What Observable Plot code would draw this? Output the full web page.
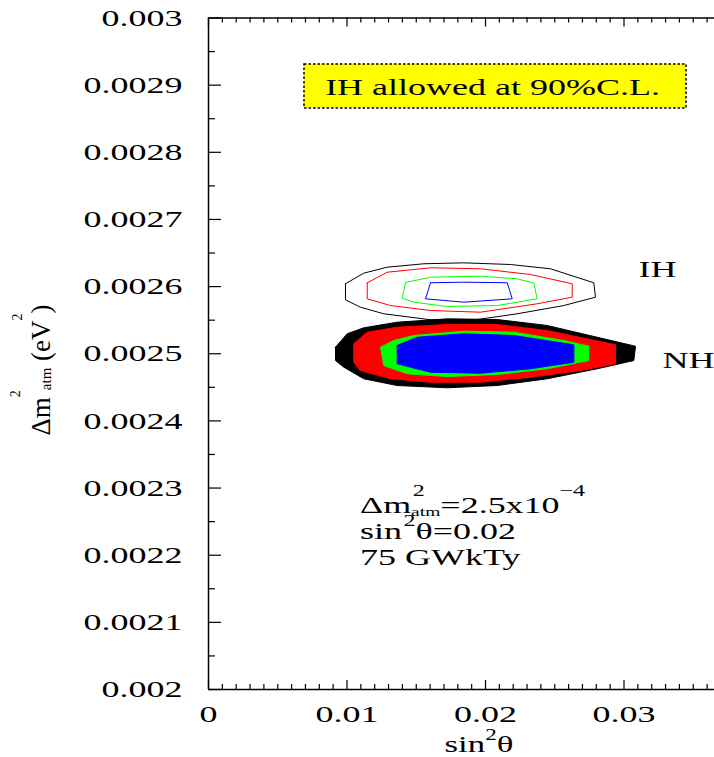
<!DOCTYPE html>
<html><head><meta charset="utf-8">
<script src="https://cdn.jsdelivr.net/npm/d3@7"></script>
<script src="https://cdn.jsdelivr.net/npm/@observablehq/plot@0.6"></script>
<style>body{margin:0;background:#fff;} svg{display:block;}</style>
</head><body><div id="chart"></div>
<script>
// ---- tick values ----
const xMajor = [0, 0.01, 0.02, 0.03];
const xMinor = d3.range(0, 37).map(i => i / 1000).filter(v => !xMajor.some(m => Math.abs(m - v) < 1e-9));
const yMajor = [0.002, 0.0021, 0.0022, 0.0023, 0.0024, 0.0025, 0.0026, 0.0027, 0.0028, 0.0029, 0.003];
const yMinor = [0.00205, 0.00215, 0.00225, 0.00235, 0.00245, 0.00255, 0.00265, 0.00275, 0.00285, 0.00295];

// ---- NH filled contours (sin^2θ, Δm²) ----
const nhBlackX = [0.00917,0.01001,0.01121,0.01362,0.01723,0.02084,0.02445,0.02806,0.03083,0.03071,0.02806,0.02445,0.02084,0.01723,0.01362,0.01121,0.00977,0.00917];
const nhBlackY = [0.0025098,0.0025297,0.0025386,0.0025470,0.0025520,0.0025510,0.0025421,0.0025246,0.0025112,0.0024899,0.0024776,0.0024627,0.0024527,0.0024493,0.0024527,0.0024627,0.0024800,0.0024899];
const nhRedX = [0.01049,0.01146,0.01362,0.01723,0.02084,0.02445,0.02939,0.02939,0.02686,0.02325,0.01964,0.01603,0.01314,0.01097,0.01049];
const nhRedY = [0.0025148,0.0025321,0.0025395,0.0025436,0.0025436,0.0025346,0.0025133,0.0024850,0.0024751,0.0024651,0.0024576,0.0024576,0.0024627,0.0024751,0.0024874];
const nhGreenX = [0.01242,0.01338,0.01482,0.01843,0.02204,0.02565,0.02746,0.02746,0.02445,0.02084,0.01723,0.01435,0.01266];
const nhGreenY = [0.0025098,0.0025197,0.0025272,0.0025336,0.0025321,0.0025197,0.0025112,0.0024899,0.0024776,0.0024691,0.0024661,0.0024701,0.0024825];
const nhBlueX = [0.01362,0.01507,0.01843,0.02204,0.02638,0.02638,0.02325,0.01964,0.01603,0.01362];
const nhBlueY = [0.0025123,0.0025246,0.0025297,0.0025272,0.0025133,0.0024874,0.0024776,0.0024710,0.0024725,0.0024850];

// ---- IH outline contours ----
const ihBlackX = [0.00989,0.01121,0.01290,0.01555,0.01843,0.02180,0.02469,0.02782,0.02794,0.02565,0.02229,0.01892,0.01603,0.01266,0.01097,0.00989];
const ihBlackY = [0.0026042,0.0026200,0.0026289,0.0026340,0.0026354,0.0026329,0.0026265,0.0026057,0.0025842,0.0025718,0.0025595,0.0025495,0.0025506,0.0025595,0.0025693,0.0025803];
const ihRedX = [0.01146,0.01290,0.01603,0.01964,0.02325,0.02626,0.02626,0.02373,0.01964,0.01603,0.01314,0.01146];
const ihRedY = [0.0026057,0.0026214,0.0026280,0.0026265,0.0026180,0.0026042,0.0025842,0.0025744,0.0025619,0.0025644,0.0025718,0.0025818];
const ihGreenX = [0.01422,0.01603,0.01964,0.02229,0.02349,0.02373,0.02084,0.01723,0.01482,0.01399];
const ihGreenY = [0.0026061,0.0026140,0.0026155,0.0026116,0.0026051,0.0025818,0.0025718,0.0025704,0.0025768,0.0025827];
const ihBlueX = [0.01603,0.01843,0.02157,0.02193,0.01843,0.01567];
const ihBlueY = [0.0026057,0.0026066,0.0026057,0.0025818,0.0025768,0.0025818];

// ---- annotations ----
const boxNote = [{x1: 0.006931, x2: 0.034513, y1: 0.0029308, y2: 0.0028652, text: "IH allowed at 90%C.L.", tx: 0.020505, ty: 0.0028971}];
const curveLabels = [{text: "IH", x: 0.03105, y: 0.0026261}, {text: "NH", x: 0.03278, y: 0.0024905}];
const infoX = 0.010975;
const infoY = [0.0022621, 0.0022234, 0.0021847];

const poly = (xs, ys) => { const p = xs.map((x, i) => ({x, y: ys[i]})); p.push(p[0]); return p; };
const fillPoly = (xs, ys, c) => Plot.line(poly(xs, ys), {x: "x", y: "y", fill: c, stroke: c, strokeWidth: 1, curve: "linear"});
const linePoly = (xs, ys, c) => Plot.line(poly(xs, ys), {x: "x", y: "y", stroke: c, strokeWidth: 1, curve: "linear"});

const W = 714 - 208, H = 689 - 17.5;
const fmt = d => String(+d.toFixed(4));

const svg = Plot.plot({
  width: 714, height: 757,
  marginLeft: 208, marginRight: 0, marginTop: 17.5, marginBottom: 68,
  x: {domain: [0, 0.036534]},
  y: {domain: [0.002, 0.003]},
  style: {fontFamily: "'Liberation Serif', 'Times New Roman', serif", color: "black", background: "white", overflow: "visible"},
  marks: [
    Plot.rect(boxNote, {x1: "x1", x2: "x2", y1: "y1", y2: "y2", fill: "#ffff00", stroke: "black", strokeWidth: 1.5, strokeDasharray: "2.5,2"}),
    Plot.text(boxNote, {x: "tx", y: "ty", text: "text", fontSize: 24, textAnchor: "middle", fill: "black"}),
    fillPoly(nhBlackX, nhBlackY, "#000000"),
    fillPoly(nhRedX, nhRedY, "#ff0000"),
    fillPoly(nhGreenX, nhGreenY, "#00ff00"),
    fillPoly(nhBlueX, nhBlueY, "#0000ff"),
    linePoly(ihBlackX, ihBlackY, "#000000"),
    linePoly(ihRedX, ihRedY, "#ff0000"),
    linePoly(ihGreenX, ihGreenY, "#00ff00"),
    linePoly(ihBlueX, ihBlueY, "#0000ff"),
    Plot.text(curveLabels, {x: "x", y: "y", text: "text", fontSize: 24, textAnchor: "start", fill: "black"}),
    // frame
    Plot.ruleX([0], {strokeWidth: 1.5}),
    Plot.ruleY([0.002, 0.003], {strokeWidth: 1.5}),
    // inward ticks
    Plot.tickY(yMajor, {y: d => d, insetRight: W - 13, strokeWidth: 1.2}),
    Plot.tickY(yMinor, {y: d => d, insetRight: W - 7, strokeWidth: 1.2}),
    Plot.tickX(xMajor, {x: d => d, insetTop: H - 9, strokeWidth: 1.2}),
    Plot.tickX(xMinor, {x: d => d, insetTop: H - 5, strokeWidth: 1.2}),
    Plot.tickX(xMajor, {x: d => d, insetBottom: H - 9, strokeWidth: 1.2}),
    Plot.tickX(xMinor, {x: d => d, insetBottom: H - 5, strokeWidth: 1.2}),
    // tick labels
    Plot.axisY(yMajor, {anchor: "left", tickSize: 0, tickPadding: 26, tickFormat: fmt, fontSize: 24, label: null}),
    Plot.axisX(xMajor, {anchor: "bottom", tickSize: 0, tickPadding: 15, tickFormat: fmt, fontSize: 24, label: null})
  ]
});
document.getElementById("chart").append(svg);

// horizontally stretched serif text, as in the original figure
svg.querySelectorAll("text").forEach(t => {
  const tr = t.getAttribute("transform");
  if (tr) t.setAttribute("transform", tr + " scale(1.5,1)");
});

const sx = svg.scale("x"), sy = svg.scale("y");
const FF = "'Liberation Serif', 'Times New Roman', serif";
const root = d3.select(svg);

function addText(x, y, transformExtra, size, anchor) {
  return root.append("text")
    .attr("transform", `translate(${x},${y}) ${transformExtra}`)
    .attr("font-family", FF).attr("font-size", size)
    .attr("text-anchor", anchor).attr("fill", "black");
}

// info block
const ix = sx.apply(infoX);
let t1 = addText(ix, sy.apply(infoY[0]), "scale(1.5,1)", 24, "start");
t1.append("tspan").text("Δm");
t1.append("tspan").attr("font-size", 16).attr("dx", 1).attr("dy", -17).text("2");
t1.append("tspan").attr("font-size", 13).attr("dx", -9).attr("dy", 20).text("atm");
t1.append("tspan").attr("dy", -3).text("=2.5x10");
t1.append("tspan").attr("font-size", 16).attr("dy", -17).text("−4");

let t2 = addText(ix, sy.apply(infoY[1]), "scale(1.5,1)", 24, "start");
t2.append("tspan").text("sin");
t2.append("tspan").attr("font-size", 16).attr("dx", 1).attr("dy", -13).text("2");
t2.append("tspan").attr("dy", 13).text("θ=0.02");

addText(ix, sy.apply(infoY[2]), "scale(1.5,1)", 24, "start").text("75 GWkTy");

// x axis title
let xl = addText(479, 752, "scale(1.45,1)", 24, "middle");
xl.append("tspan").text("sin");
xl.append("tspan").attr("font-size", 16).attr("dy", -12).text("2");
xl.append("tspan").attr("dy", 12).text("θ");

// y axis title (rotated)
let yl = addText(50, 370, "rotate(-90)", 27, "middle");
yl.append("tspan").text("Δm");
yl.append("tspan").attr("font-size", 14).attr("dy", -30).text("2");
yl.append("tspan").attr("font-size", 15).attr("dy", 31).text("atm");
yl.append("tspan").attr("dy", -1).text(" (eV");
yl.append("tspan").attr("font-size", 14).attr("dy", -28).text("2");
yl.append("tspan").attr("dy", 28).text(")");
</script>
</body></html>
